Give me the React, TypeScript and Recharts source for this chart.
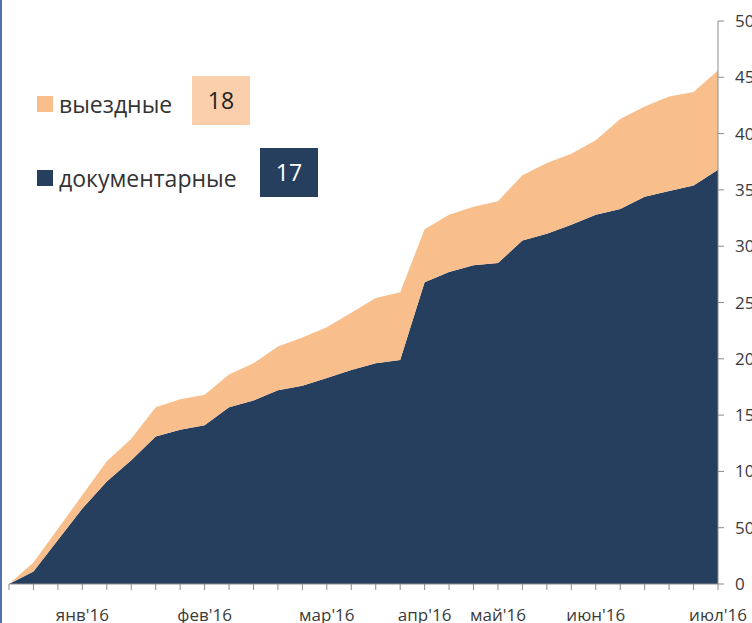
import { AreaChart, Area, XAxis, YAxis } from "recharts";

// weekly cumulative counts
const documentary = [
  0, 11, 39, 67, 91, 110, 131, 137, 141, 157, 163, 172, 176, 183, 190, 196,
  199, 268, 277, 283, 285, 305, 311, 319, 328, 333, 344, 349, 354, 368,
];
const onsite = [
  0, 8, 10, 12, 18, 19, 26, 27, 27, 29, 33, 39, 43, 45, 51, 58, 60, 47, 51,
  52, 55, 58, 63, 63, 66, 80, 80, 84, 83, 88,
];
const monthLabels = [
  "", "", "", "янв'16", "", "", "", "", "фев'16", "", "", "", "", "мар'16",
  "", "", "", "апр'16", "", "", "май'16", "", "", "", "июн'16", "", "", "",
  "", "июл'16",
];
const yTicks = [0, 50, 100, 150, 200, 250, 300, 350, 400, 450, 500];

const NAVY = "#263f5f";
const PEACH = "#f8be8b";
const FONT = "'Open Sans', sans-serif";

const data = documentary.map((d, i) => ({
  week: `w${i + 1}`,
  documentary: d,
  onsite: onsite[i],
}));

const MonthTick = (props: any) => {
  const { x, y, index } = props;
  const label = monthLabels[index];
  if (!label) return null;
  return (
    <text
      x={x}
      y={y + 29}
      textAnchor="middle"
      fontSize={17}
      fontFamily={FONT}
      fill="#3a3a3a"
    >
      {label}
    </text>
  );
};

export default function App() {
  return (
    <div
      style={{
        position: "fixed",
        left: 0,
        top: 0,
        width: 752,
        height: 623,
        overflow: "hidden",
        background: "#fff",
        fontFamily: FONT,
      }}
    >
      {/* left frame line */}
      <div
        style={{
          position: "absolute",
          left: 0,
          top: 0,
          width: 2,
          height: 623,
          background: "#4f72ad",
        }}
      />

      <AreaChart
        width={790}
        height={623}
        data={data}
        margin={{ top: 21, right: 0, left: 9, bottom: 0 }}
      >
        <XAxis
          dataKey="week"
          interval={0}
          height={39}
          tickSize={6}
          stroke="#8c8c8c"
          tick={<MonthTick />}
        />
        <YAxis
          orientation="right"
          width={72}
          domain={[0, 500]}
          ticks={yTicks}
          tickSize={6}
          tickMargin={11}
          stroke="#8c8c8c"
          tick={{ fontSize: 17, fill: "#3a3a3a", fontFamily: FONT, textAnchor: "start" }}
        />
        <Area
          type="linear"
          dataKey="documentary"
          stackId="1"
          stroke="none"
          fill={NAVY}
          fillOpacity={1}
          isAnimationActive={false}
        />
        <Area
          type="linear"
          dataKey="onsite"
          stackId="1"
          stroke="none"
          fill={PEACH}
          fillOpacity={1}
          isAnimationActive={false}
        />
      </AreaChart>

      {/* Legend */}
      <div style={{ position: "absolute", left: 37, top: 96, width: 16, height: 16, background: PEACH }} />
      <div
        style={{
          position: "absolute",
          left: 59,
          top: 86,
          fontSize: 23,
          lineHeight: "36px",
          color: "#333",
        }}
      >
        выездные
      </div>
      <div
        style={{
          position: "absolute",
          left: 192,
          top: 76,
          width: 58,
          height: 49,
          background: "#fbcfab",
          color: "#222",
          fontSize: 23,
          lineHeight: "49px",
          textAlign: "center",
        }}
      >
        18
      </div>

      <div style={{ position: "absolute", left: 37, top: 170, width: 16, height: 16, background: NAVY }} />
      <div
        style={{
          position: "absolute",
          left: 59,
          top: 160,
          fontSize: 23,
          lineHeight: "36px",
          color: "#333",
        }}
      >
        документарные
      </div>
      <div
        style={{
          position: "absolute",
          left: 260,
          top: 148,
          width: 58,
          height: 49,
          background: NAVY,
          color: "#fff",
          fontSize: 23,
          lineHeight: "49px",
          textAlign: "center",
        }}
      >
        17
      </div>
    </div>
  );
}
